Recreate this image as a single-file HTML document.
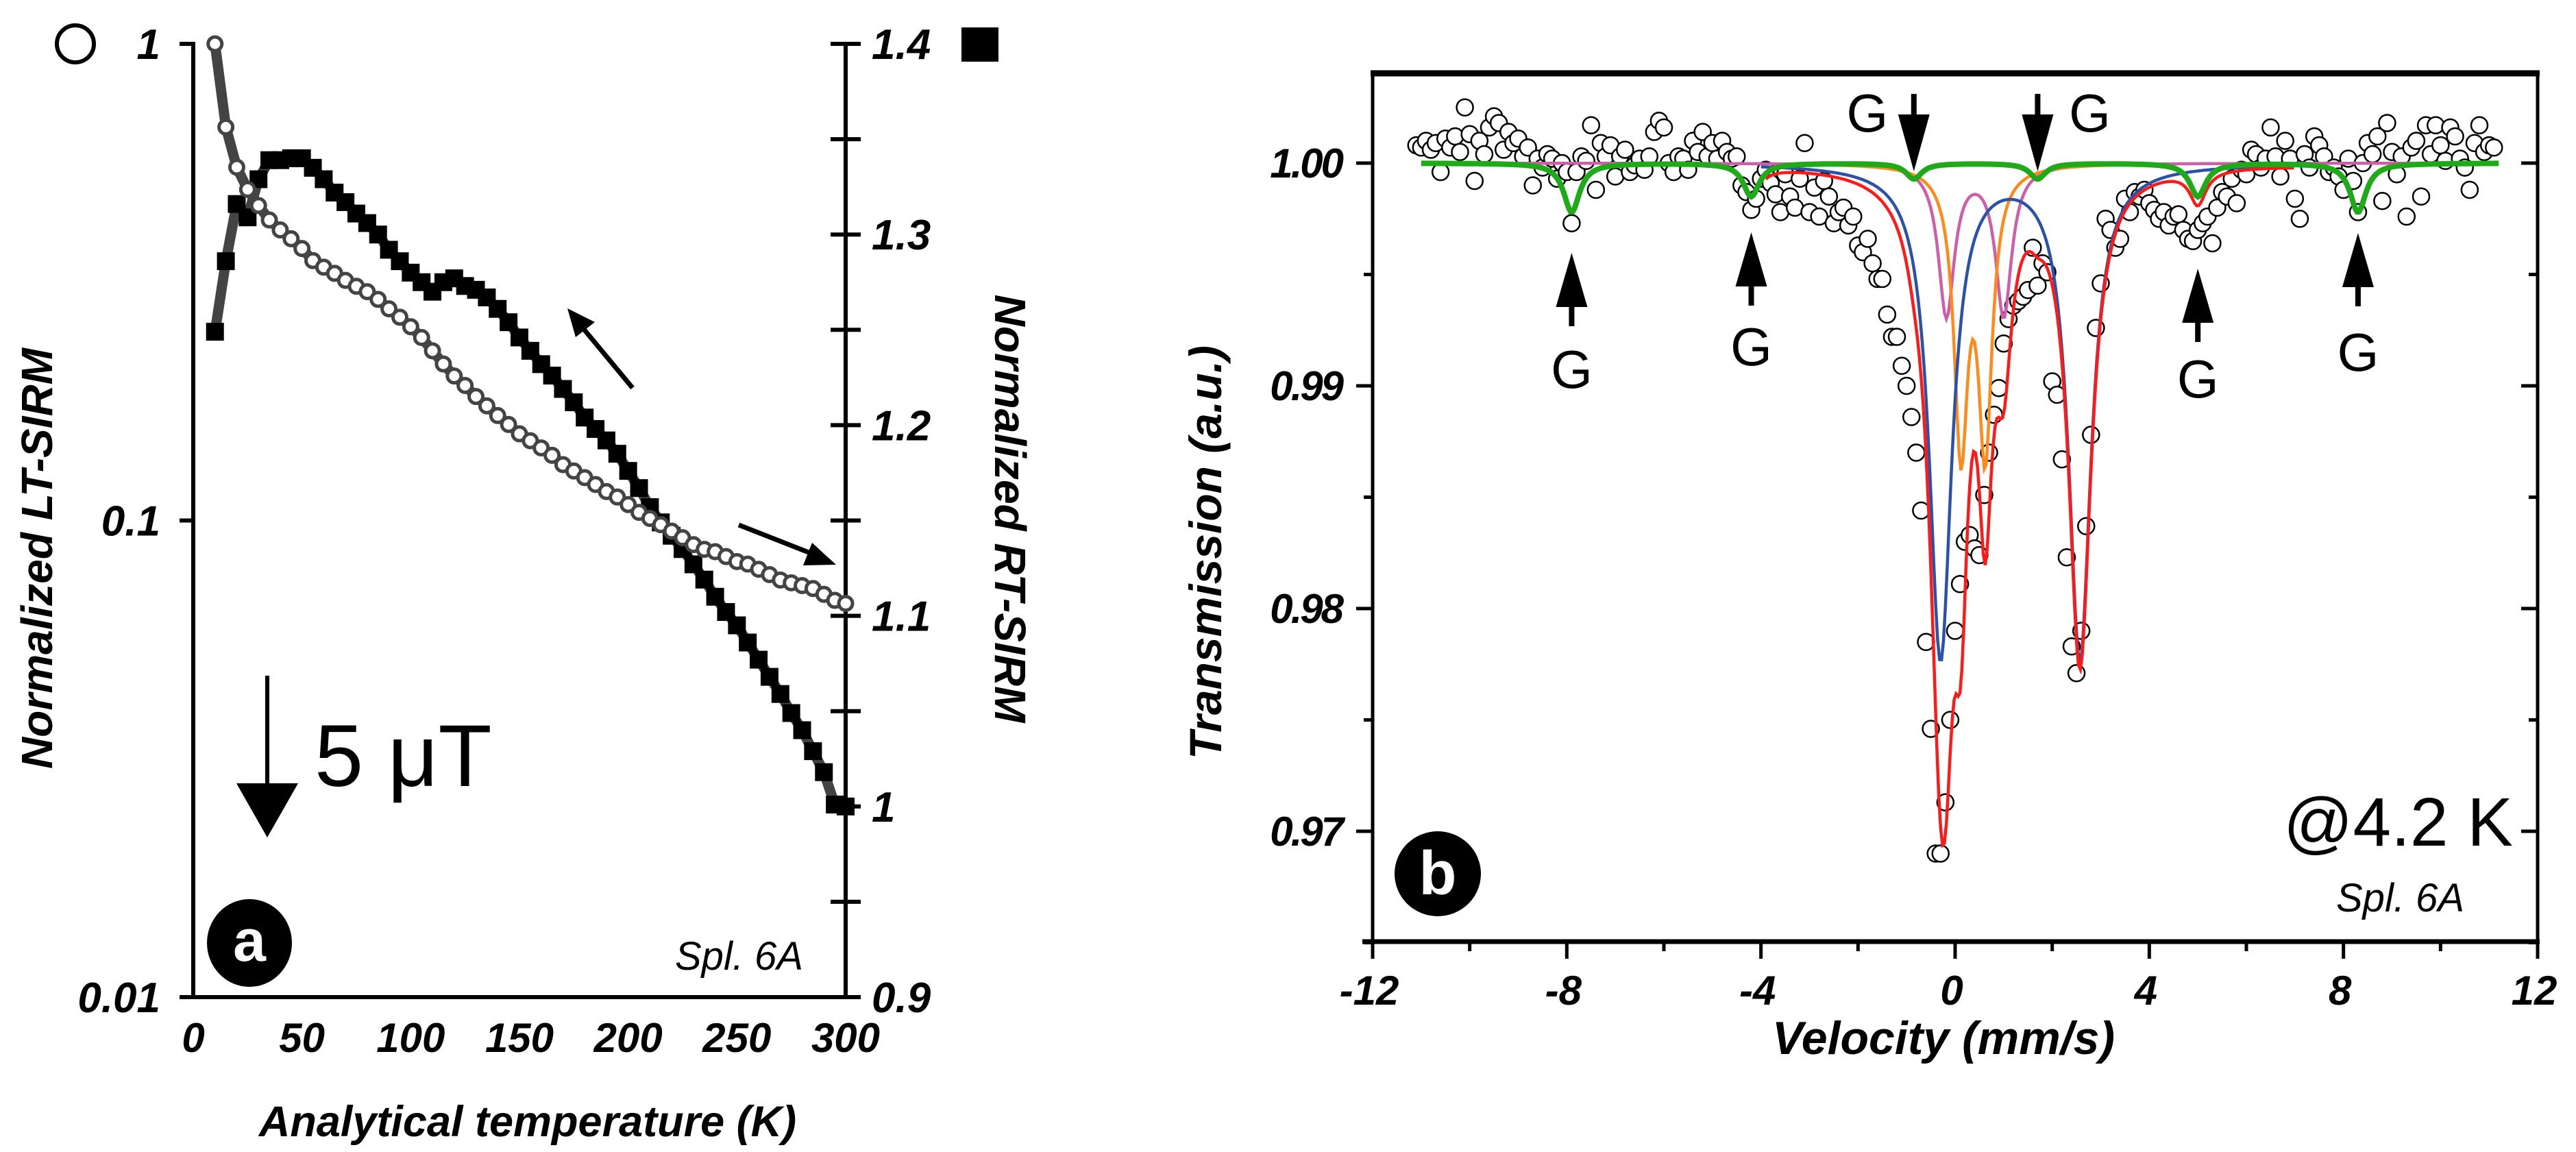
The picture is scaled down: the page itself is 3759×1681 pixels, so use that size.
<!DOCTYPE html>
<html><head><meta charset="utf-8"><style>
html,body{margin:0;padding:0;background:#fff;}
svg{display:block;font-family:"Liberation Sans",sans-serif;}
</style></head><body>
<svg id="fig" width="3759" height="1681" viewBox="0 0 3759 1681" xmlns="http://www.w3.org/2000/svg">
<g id="pa"></g>
<g id="pb"></g>
</svg>
<script>
// ---------- Panel a data ----------
const tempsA = [10,15,20,25,30,35,40,45,50,55,60,65,70,75,80,85,90,95,100,105,110,115,120,125,130,135,140,145,150,155,160,165,170,175,180,185,190,195,200,205,210,215,220,225,230,235,240,245,250,255,260,265,270,275,280,285,290,295,300];
const ltSirm = [1.000,0.669,0.551,0.495,0.458,0.427,0.407,0.390,0.372,0.351,0.340,0.330,0.319,0.310,0.302,0.291,0.278,0.267,0.255,0.242,0.227,0.213,0.201,0.192,0.182,0.174,0.166,0.159,0.152,0.147,0.142,0.137,0.131,0.127,0.123,0.119,0.115,0.112,0.108,0.104,0.101,0.098,0.095,0.092,0.089,0.087,0.086,0.084,0.082,0.081,0.079,0.077,0.075,0.074,0.073,0.072,0.070,0.068,0.067];
const rtSirm = [1.249,1.286,1.316,1.309,1.329,1.339,1.339,1.340,1.340,1.335,1.329,1.322,1.317,1.311,1.306,1.300,1.292,1.286,1.280,1.275,1.270,1.275,1.277,1.273,1.271,1.267,1.261,1.254,1.246,1.239,1.232,1.226,1.219,1.212,1.204,1.198,1.192,1.185,1.176,1.167,1.157,1.149,1.142,1.135,1.127,1.119,1.110,1.102,1.095,1.086,1.077,1.068,1.059,1.049,1.040,1.029,1.018,1.001,1.000];
const xTicksA = [0,50,100,150,200,250,300];
const yTicksLeftA = [1,0.1,0.01];
const yTickLabelsLeftA = ["1","0.1","0.01"];
const yTicksRightA = [1.4,1.3,1.2,1.1,1,0.9];
const yTickLabelsRightA = ["1.4","1.3","1.2","1.1","1","0.9"];

// ---------- Panel b data ----------
const velStart = -11.1, velStep = 0.1;
const transmission = [1.0008,1.0007,1.0010,1.0006,1.0009,0.9996,1.0011,1.0007,1.0012,1.0005,1.0025,1.0013,0.9992,1.0010,1.0004,1.0016,1.0021,1.0018,1.0006,1.0014,1.0009,1.0011,1.0003,1.0007,0.9990,1.0002,0.9998,1.0004,1.0002,0.9993,1.0000,0.9996,0.9973,0.9996,1.0003,1.0001,1.0017,0.9988,1.0009,1.0003,1.0008,0.9994,1.0003,1.0006,0.9996,0.9999,1.0002,0.9997,1.0003,1.0014,1.0019,1.0016,1.0000,0.9996,1.0003,1.0002,0.9997,1.0010,1.0005,1.0014,1.0003,1.0009,1.0002,1.0010,1.0005,1.0002,1.0003,0.9990,0.9987,0.9979,0.9984,0.9993,0.9997,0.9991,0.9986,0.9978,0.9995,0.9985,0.9980,0.9993,1.0009,0.9978,0.9989,0.9976,0.9992,0.9985,0.9973,0.9978,0.9980,0.9972,0.9976,0.9963,0.9960,0.9966,0.9955,0.9948,0.9948,0.9932,0.9922,0.9922,0.9909,0.9900,0.9886,0.9870,0.9844,0.9785,0.9746,0.9690,0.9690,0.9713,0.9750,0.9790,0.9811,0.9830,0.9833,0.9827,0.9824,0.9851,0.9870,0.9887,0.9899,0.9919,0.9930,0.9936,0.9938,0.9940,0.9943,0.9962,0.9945,0.9955,0.9951,0.9902,0.9896,0.9867,0.9823,0.9783,0.9771,0.9790,0.9837,0.9878,0.9926,0.9946,0.9975,0.9970,0.9962,0.9966,0.9984,0.9978,0.9987,0.9985,0.9988,0.9982,0.9979,0.9975,0.9978,0.9972,0.9976,0.9977,0.9970,0.9966,0.9965,0.9970,0.9973,0.9976,0.9964,0.9980,0.9987,0.9985,0.9993,0.9982,0.9997,0.9995,1.0006,1.0004,0.9998,1.0002,1.0016,1.0003,0.9994,1.0010,1.0002,0.9984,0.9975,1.0004,0.9998,1.0012,1.0008,1.0003,0.9996,0.9998,0.9994,0.9988,1.0002,0.9992,0.9978,1.0000,1.0009,1.0004,1.0012,0.9983,1.0018,1.0005,0.9995,1.0003,0.9976,1.0007,1.0010,0.9985,1.0017,1.0004,1.0017,1.0008,1.0001,1.0016,1.0012,1.0002,0.9998,0.9988,1.0009,1.0017,1.0005,1.0008,1.0007];
const blueCenters = [-0.3, 2.57], blueDepths = [0.0222, 0.0222], blueWidths = [0.28, 0.28];
const orangeCenters = [0.12, 0.62], orangeDepths = [0.0125, 0.0125], orangeWidths = [0.17, 0.17];
const magentaCenters = [-0.18, 1.0], magentaDepths = [0.0068, 0.0068], magentaWidths = [0.2, 0.2];
const greenCenters = [-7.9, -4.2, -0.85, 1.7, 5.0, 8.3], greenDepths = [0.0022, 0.0015, 0.0007, 0.0007, 0.0015, 0.0022], greenWidths = [0.2, 0.2, 0.2, 0.2, 0.2, 0.2];
const xTicksB = [-12,-8,-4,0,4,8,12];
const xTickLabelsB = ["-12","-8","-4","0","4","8","12"];
const yTicksB = [1.00,0.99,0.98,0.97];
const yTickLabelsB = ["1.00","0.99","0.98","0.97"];
const gMarkers = [-7.9,-4.2,-0.85,1.7,5.0,8.3];

const NS = "http://www.w3.org/2000/svg";
function mk(parent, tag, attrs, text) {
  const e = document.createElementNS(NS, tag);
  for (const k in attrs) e.setAttribute(k, attrs[k]);
  if (text !== undefined) e.textContent = text;
  parent.appendChild(e);
  return e;
}
const BI = "font-weight:bold;font-style:italic;";

// ===== Panel a =====
const pa = document.getElementById("pa");
const ax0 = 282, ax1 = 1234, ay0 = 64, ay1 = 1455;
const xA = t => ax0 + (t - 0) / 300 * (ax1 - ax0);
const yLog = v => ay0 + (0 - Math.log10(v)) / 2 * (ay1 - ay0);
const yLin = v => ay0 + (1.4 - v) / 0.5 * (ay1 - ay0);

let e;
e = mk(pa, "line", {x1: ax0, y1: ay0 - 3, x2: ax0, y2: ay1 + 3, stroke: "#000", "stroke-width": 6});
 
e = mk(pa, "line", {x1: ax1, y1: ay0 - 3, x2: ax1, y2: ay1 + 3, stroke: "#000", "stroke-width": 6});
 
e = mk(pa, "line", {x1: ax0 - 20, y1: ay1, x2: ax1 + 3, y2: ay1, stroke: "#000", "stroke-width": 6});
 

yTicksLeftA.forEach((v, i) => {
  const y = yLog(v);
  let t = mk(pa, "line", {x1: ax0 - 20, y1: y, x2: ax0, y2: y, stroke: "#000", "stroke-width": 6});
   
  let l = mk(pa, "text", {x: ax0 - 48, y: y + 22, "text-anchor": "end", style: BI + "font-size:62px"}, yTickLabelsLeftA[i]);
   
});
for (let v = 1.4; v >= 0.899; v -= 0.05) {
  const y = yLin(v);
  let t = mk(pa, "line", {x1: ax1 - 22, y1: y, x2: ax1 + 22, y2: y, stroke: "#000", "stroke-width": 6});
   
}
yTicksRightA.forEach((v, i) => {
  let l = mk(pa, "text", {x: 1272, y: yLin(v) + 22, "text-anchor": "start", style: BI + "font-size:62px"}, yTickLabelsRightA[i]);
   
});
xTicksA.forEach(t => {
  let l = mk(pa, "text", {x: xA(t), y: 1535, "text-anchor": "middle", style: BI + "font-size:60px"}, String(t));
   
});
e = mk(pa, "text", {x: 770, y: 1658, "text-anchor": "middle", style: BI + "font-size:63px"}, "Analytical temperature (K)");
 
e = mk(pa, "text", {x: 0, y: 0, "text-anchor": "middle", transform: "translate(76,815) rotate(-90)", style: BI + "font-size:64px"}, "Normalized LT-SIRM");
 
e = mk(pa, "text", {x: 0, y: 0, "text-anchor": "middle", transform: "translate(1452,742) rotate(90)", style: BI + "font-size:64px"}, "Normalized RT-SIRM");
 

// series lines
const ltPts = tempsA.map((t, i) => xA(t) + "," + yLog(ltSirm[i])).join(" ");
const rtPts = tempsA.map((t, i) => xA(t) + "," + yLin(rtSirm[i])).join(" ");
e = mk(pa, "polyline", {points: rtPts, fill: "none", stroke: "#444", "stroke-width": 15, "stroke-linejoin": "round"});
 
e = mk(pa, "polyline", {points: ltPts, fill: "none", stroke: "#444", "stroke-width": 15, "stroke-linejoin": "round"});
 
tempsA.forEach((t, i) => {
  const y = yLin(rtSirm[i]);
  let s = mk(pa, "rect", {x: xA(t) - 13, y: y - 13, width: 26, height: 26, fill: "#000"});
   
});
tempsA.forEach((t, i) => {
  let c = mk(pa, "circle", {cx: xA(t), cy: yLog(ltSirm[i]), r: 10, fill: "#fff", stroke: "#444", "stroke-width": 5});
   
});

// legend markers
e = mk(pa, "circle", {cx: 110, cy: 64, r: 27, fill: "#fff", stroke: "#000", "stroke-width": 6});
 
e = mk(pa, "rect", {x: 1403, y: 40, width: 54, height: 50, fill: "#000"});
 
// arrows
e = mk(pa, "g", {});
 
mk(e, "line", {x1: 923, y1: 566, x2: 850, y2: 478, stroke: "#000", "stroke-width": 7});
mk(e, "polygon", {points: "828,450 868,470 840,492", fill: "#000"});
e = mk(pa, "g", {});
 
mk(e, "line", {x1: 1078, y1: 766, x2: 1185, y2: 808, stroke: "#000", "stroke-width": 7});
mk(e, "polygon", {points: "1220,824 1172,825 1185,792", fill: "#000"});
e = mk(pa, "g", {});
 
mk(e, "line", {x1: 390, y1: 986, x2: 390, y2: 1150, stroke: "#000", "stroke-width": 6});
mk(e, "polygon", {points: "345,1143 435,1143 390,1222", fill: "#000"});
e = mk(pa, "text", {x: 459, y: 1147, style: "font-size:128px"}, "5 μT");
 
e = mk(pa, "ellipse", {cx: 364, cy: 1376, rx: 62, ry: 64, fill: "#000"});
 
e = mk(pa, "text", {x: 364, y: 1402, "text-anchor": "middle", fill: "#fff", style: "font-weight:bold;font-size:86px"}, "a");
 
e = mk(pa, "text", {x: 1172, y: 1415, "text-anchor": "end", style: "font-style:italic;font-size:58px"}, "Spl. 6A");
 

// ===== Panel b =====
const pb = document.getElementById("pb");
const bx0 = 2003, bx1 = 3703, byTop = 107, byBot = 1374;
const xB = v => bx0 + (v + 12) / 24 * (bx1 - bx0);
const yB = v => 238 + (1.0 - v) * 32500;

e = mk(pb, "rect", {x: bx0, y: byTop, width: bx1 - bx0, height: byBot - byTop, fill: "none", stroke: "#000", "stroke-width": 5});
 
e = mk(pb, "line", {x1: bx0 - 3, y1: byTop, x2: bx1 + 3, y2: byTop, stroke: "#000", "stroke-width": 9});
 
e = mk(pb, "line", {x1: bx0 - 15, y1: byBot, x2: bx1 + 3, y2: byBot, stroke: "#000", "stroke-width": 7});
 

xTicksB.forEach((v, i) => {
  const x = xB(v);
  let t = mk(pb, "line", {x1: x, y1: byBot, x2: x, y2: byBot + 25, stroke: "#000", "stroke-width": 5});
   
  let l = mk(pb, "text", {x: x - 5, y: 1466, "text-anchor": "middle", style: BI + "font-size:60px"}, xTickLabelsB[i]);
   
});
for (let v = -10; v <= 10; v += 4) {
  let t = mk(pb, "line", {x1: xB(v), y1: byBot, x2: xB(v), y2: byBot + 14, stroke: "#000", "stroke-width": 5});
   
}
yTicksB.forEach((v, i) => {
  const y = yB(v);
  let t = mk(pb, "line", {x1: bx0 - 24, y1: y, x2: bx0, y2: y, stroke: "#000", "stroke-width": 5});
   
  let tr = mk(pb, "line", {x1: bx1 - 24, y1: y, x2: bx1, y2: y, stroke: "#000", "stroke-width": 5});
   
  let l = mk(pb, "text", {x: 1958, y: y + 21, "text-anchor": "end", style: BI + "font-size:60px;letter-spacing:-3px"}, yTickLabelsB[i]);
   
});
for (let v = 0.995; v >= 0.964; v -= 0.01) {
  const y = yB(v);
  let t = mk(pb, "line", {x1: bx0 - 13, y1: y, x2: bx0, y2: y, stroke: "#000", "stroke-width": 5});
   
  let tr = mk(pb, "line", {x1: bx1 - 13, y1: y, x2: bx1, y2: y, stroke: "#000", "stroke-width": 5});
   
}
e = mk(pb, "text", {x: 2836, y: 1538, "text-anchor": "middle", style: BI + "font-size:68px"}, "Velocity (mm/s)");
 
e = mk(pb, "text", {x: 0, y: 0, "text-anchor": "middle", transform: "translate(1782,806) rotate(-90)", style: BI + "font-size:66px"}, "Transmission (a.u.)");
 

// data points
transmission.forEach((t, i) => {
  const v = velStart + i * velStep;
  let c = mk(pb, "circle", {cx: xB(v), cy: yB(t), r: 12, fill: "#fff", stroke: "#000", "stroke-width": 2.5});
   
});

function absorb(centers, depths, widths, v) {
  let s = 0;
  for (let k = 0; k < centers.length; k++) {
    const w2 = widths[k] * widths[k];
    s += depths[k] * w2 / (w2 + (v - centers[k]) * (v - centers[k]));
  }
  return s;
}
function curvePts(fn, vmin, vmax) {
  const pts = [];
  for (let v = vmin; v <= vmax + 1e-9; v += 0.04) pts.push(xB(v).toFixed(1) + "," + yB(fn(v)).toFixed(1));
  return pts.join(" ");
}
const fBlue = v => 1 - absorb(blueCenters, blueDepths, blueWidths, v);
const fOrange = v => 1 - absorb(orangeCenters, orangeDepths, orangeWidths, v);
const fMag = v => 1 - absorb(magentaCenters, magentaDepths, magentaWidths, v);
const fGreen = v => 1 - absorb(greenCenters, greenDepths, greenWidths, v);
const fRed = v => 1 - absorb(blueCenters, blueDepths, blueWidths, v) - absorb(orangeCenters, orangeDepths, orangeWidths, v) - absorb(magentaCenters, magentaDepths, magentaWidths, v) - absorb(greenCenters, greenDepths, greenWidths, v);

e = mk(pb, "polyline", {points: curvePts(fMag, -9.3, 11.2), fill: "none", stroke: "#cc5fa8", "stroke-width": 4.5});
 
e = mk(pb, "polyline", {points: curvePts(fOrange, -3.0, 3.6), fill: "none", stroke: "#ff8a1c", "stroke-width": 4.5});
 
e = mk(pb, "polyline", {points: curvePts(fBlue, -4.0, 7.0), fill: "none", stroke: "#2b52a8", "stroke-width": 4.5});
 
e = mk(pb, "polyline", {points: curvePts(fRed, -3.9, 7.0), fill: "none", stroke: "#ff1a1a", "stroke-width": 4.5});
 
e = mk(pb, "polyline", {points: curvePts(fGreen, -11.0, 11.2), fill: "none", stroke: "#1faa1a", "stroke-width": 8});
 

// G markers
gMarkers.forEach((v, i) => {
  const x = xB(v);
  const g = mk(pb, "g", {});
   
  if (i === 2 || i === 3) {
    mk(g, "line", {x1: x, y1: 137, x2: x, y2: 175, stroke: "#000", "stroke-width": 8});
    mk(g, "polygon", {points: (x - 23) + ",167 " + (x + 23) + ",167 " + x + ",250", fill: "#000"});
    const tx = i === 2 ? x - 68 : x + 76;
    mk(g, "text", {x: tx, y: 192, "text-anchor": "middle", style: "font-size:78px"}, "G");
  } else {
    const tip = [369, 339, 0, 0, 392, 340][i];
    const gy = [566, 533, 0, 0, 580, 541][i];
    mk(g, "polygon", {points: x + "," + tip + " " + (x - 23) + "," + (tip + 79) + " " + (x + 23) + "," + (tip + 79), fill: "#000"});
    mk(g, "line", {x1: x, y1: tip + 70, x2: x, y2: tip + 107, stroke: "#000", "stroke-width": 8});
    mk(g, "text", {x: x, y: gy, "text-anchor": "middle", style: "font-size:78px"}, "G");
  }
});

e = mk(pb, "text", {x: 3667, y: 1234, "text-anchor": "end", style: "font-size:100px"}, "@4.2 K");
 
e = mk(pb, "text", {x: 3596, y: 1330, "text-anchor": "end", style: "font-style:italic;font-size:58px"}, "Spl. 6A");
 
e = mk(pb, "ellipse", {cx: 2098, cy: 1275, rx: 63, ry: 62, fill: "#000"});
 
e = mk(pb, "text", {x: 2098, y: 1305, "text-anchor": "middle", fill: "#fff", style: "font-weight:bold;font-size:90px"}, "b");
 
</script>
</body></html>
